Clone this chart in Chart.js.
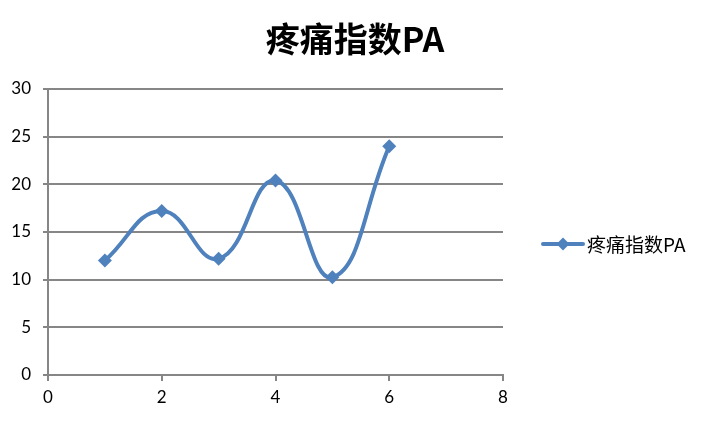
<!DOCTYPE html>
<html>
<head>
<meta charset="utf-8">
<script src="https://cdn.jsdelivr.net/npm/chart.js@4"></script>
<style>
html,body{margin:0;padding:0;background:#fff;}
canvas{display:block;}
</style>
</head>
<body>
<canvas id="c" width="712" height="422"></canvas>
<script>
const seriesName = '疼痛指数PA';
const titleText = '疼痛指数PA';
const xValues = [1, 2, 3, 4, 5, 6];
const yValues = [12.0, 17.2, 12.2, 20.4, 10.25, 24.0];
const xTicks = [0, 2, 4, 6, 8];
const yTicks = [0, 5, 10, 15, 20, 25, 30];

const lineColor = '#4F81BD';
const gridColor = '#868686';
const points = xValues.map((x, i) => ({x: x, y: yValues[i]}));

const decorPlugin = {
  id: 'decor',
  afterDraw(chart) {
    const ctx = chart.ctx;
    ctx.save();
    // title centred on the canvas
    ctx.fillStyle = '#000';
    ctx.font = 'bold 34px "Noto Sans CJK SC", sans-serif';
    ctx.textAlign = 'center';
    ctx.textBaseline = 'middle';
    ctx.fillText(titleText, 355, 39);
    // legend
    const y = 244;
    ctx.strokeStyle = lineColor;
    ctx.lineWidth = 4;
    ctx.lineCap = 'round';
    ctx.beginPath();
    ctx.moveTo(543, y);
    ctx.lineTo(583, y);
    ctx.stroke();
    ctx.fillStyle = lineColor;
    ctx.beginPath();
    const cx = 563, r = 6.5;
    ctx.moveTo(cx, y - r);
    ctx.lineTo(cx + r, y);
    ctx.lineTo(cx, y + r);
    ctx.lineTo(cx - r, y);
    ctx.closePath();
    ctx.fill();
    ctx.fillStyle = '#000';
    ctx.font = '19px "Noto Sans CJK SC", sans-serif';
    ctx.textAlign = 'left';
    ctx.textBaseline = 'middle';
    ctx.fillText(seriesName, 587, y + 1);
    ctx.restore();
  }
};

new Chart(document.getElementById('c'), {
  type: 'scatter',
  data: {
    datasets: [{
      label: seriesName,
      data: points,
      showLine: true,
      borderColor: lineColor,
      backgroundColor: lineColor,
      borderWidth: 4,
      tension: 0.45,
      pointStyle: 'rectRot',
      pointRadius: 7,
      pointHoverRadius: 7,
      pointBorderWidth: 0,
      clip: false
    }]
  },
  options: {
    responsive: false,
    animation: false,
    layout: { padding: { left: 0, right: 209, top: 89, bottom: 0 } },
    plugins: {
      legend: { display: false },
      tooltip: { enabled: false },
      title: { display: false }
    },
    scales: {
      x: {
        type: 'linear',
        min: 0, max: 8,
        afterBuildTicks(scale) { scale.ticks = xTicks.map(v => ({value: v})); },
        afterFit(scale) { scale.height = 47; },
        grid: { drawOnChartArea: false, drawTicks: true, tickLength: 6, color: gridColor, lineWidth: 2 },
        border: { color: gridColor, width: 2 },
        ticks: { color: '#000', font: { family: 'Lato, sans-serif', size: 17 }, padding: 6, maxRotation: 0 }
      },
      y: {
        type: 'linear',
        min: 0, max: 30,
        afterBuildTicks(scale) { scale.ticks = yTicks.map(v => ({value: v})); },
        afterFit(scale) { scale.width = 48; },
        grid: { drawTicks: true, tickLength: 5, color: gridColor, lineWidth: 2 },
        border: { color: gridColor, width: 2 },
        ticks: { color: '#000', font: { family: 'Lato, sans-serif', size: 17 }, padding: 12 }
      }
    }
  },
  plugins: [decorPlugin]
});
</script>
</body>
</html>
